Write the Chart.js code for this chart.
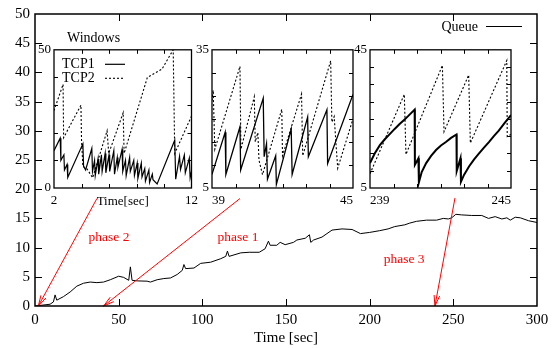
<!DOCTYPE html>
<html><head><meta charset="utf-8">
<script src="https://cdn.jsdelivr.net/npm/chart.js@4"></script>
<style>
html,body{margin:0;padding:0;background:#fff;}
#wrap{position:relative;width:559px;height:348px;overflow:hidden;}
canvas{position:absolute;}
</style></head><body>
<div id="wrap">
<canvas id="main" width="559" height="348" style="left:0;top:0;width:559px;height:348px"></canvas>
<canvas id="inA" width="171" height="179" style="left:32px;top:39px;width:171px;height:179px"></canvas>
<canvas id="inB" width="171" height="179" style="left:190px;top:39px;width:171px;height:179px"></canvas>
<canvas id="inC" width="171" height="179" style="left:348px;top:39px;width:171px;height:179px"></canvas>
</div>
<script>
// ---------- main chart: queue length ----------
const queueTime  = [0,3,9,11,12,13,17,21,25,29,33,37,41,45,50,53,56,57,58,61,67,69,73,77,81,85,88,89,90,95,99,105,111,114,115,116,123,128,134,137.5,139.5,140.5,144.5,146.5,149.5,154.5,156.5,161.5,164,164.8,166.5,171.5,174.5,177.5,183.5,189.5,194.5,200,206,211,215,221,224,228,234,240,244,247,249,251.5,255,261,267,271,275,279,282,284,287,290,295,300];
const queueValue = [0,0.1,0.3,0.7,1.9,1.0,1.6,2.4,3.4,3.9,4.1,4.0,4.1,4.5,5.1,4.9,4.4,6.7,4.4,4.3,4.25,4.1,4.5,4.7,4.8,5.4,6.1,7.1,6.4,6.5,7.3,7.5,8.1,8.5,9.4,8.5,9.1,9.2,9.2,9.8,11.1,10.4,10.4,10.9,10.5,10.9,11.3,11.6,12.2,10.9,11.3,11.8,12.4,13.0,13.2,13.1,12.4,12.6,12.9,13.2,13.6,13.9,14.2,14.5,14.7,14.7,15.0,14.9,15.1,15.7,15.6,15.5,15.5,15.0,15.3,14.9,15.1,14.7,15.2,15.1,14.6,14.3];
const mainXTicks = {min:0, max:300, step:50};
const mainYTicks = {min:0, max:50, step:5};

// phase annotations (data units of the main chart)
const phaseNames  = ['phase 2','phase 1','phase 3'];
const phaseFromX  = [37, 122.5, 251];
const phaseFromY  = [18.4, 18.4, 18.5];
const phaseToX    = [2, 41, 239];
const phaseToY    = [0, 0, 0];
const phaseLabelX = [44.2, 121.3, 220.6];
const phaseLabelY = [11.7, 11.7, 8.0];

// ---------- inset A: 2-12 s ----------
const tcp1A_t = [2.0,2.45,2.5,2.72,2.76,2.95,3.0,4.1,4.15,4.3,4.75,4.8,4.95,5.0,5.2,5.25,5.45,5.5,5.72,5.77,6.0,6.05,6.35,6.4,6.6,6.65,6.95,7.0,7.2,7.25,7.5,7.55,7.8,7.85,8.05,8.1,8.35,8.4,8.6,8.65,8.9,8.95,9.15,9.2,9.5,10.78,10.85,11.13,11.2,11.48,11.55,11.84,11.9,12.0];
const tcp1A_w = [13.5,18,10,12,6.5,8.5,3.8,16,7.8,6.5,14.3,6,10,4.5,10.5,5,12,6,12.5,5.5,12,6,13.5,5,11,7.5,14,6,10,4.5,11,6,10,4.5,9,3.5,9,4,7,2.5,6.5,2,5,3,1.5,17.3,3.2,11.4,6.7,11.9,5.5,10.8,3.7,6];
const tcp2A_t = [2.0,2.66,2.7,3.96,4.0,4.1,4.35,4.81,5.86,5.98,7.03,7.1,8.79,9.85,10.67,10.78,12.0];
const tcp2A_w = [28,37.5,18.2,30,17.6,7.8,7.3,3.7,20.7,12.5,27.2,12.5,40,43,50,12.5,26];

// ---------- inset B: 39-45 s ----------
const tcp1B_t = [39.0,39.56,39.59,40.19,40.22,41.18,41.22,41.32,41.36,41.71,41.74,42.37,42.41,43.07,43.1,43.89,43.92,45.0];
const tcp1B_w = [7.95,17.1,7.95,18.3,8.9,24.5,11.8,14.6,6.9,12.0,5.8,17.8,7.95,20.4,11.8,22.0,10.3,25.3];
const tcp2B_t = [39.0,39.05,39.12,40.19,40.23,40.8,40.84,40.95,41.0,41.15,41.97,42.0,42.81,42.86,44.05,44.1,44.2,44.27,44.35,45.0];
const tcp2B_w = [24,26.2,13.4,31.4,13.4,24.8,15,17,11,7.9,22.1,12,25.4,12,32.6,19.3,20.5,15,9.3,20];

// ---------- inset C: 239-245 s ----------
const tcp1C_t = [239.0,239.2,239.42,239.63,239.84,240.05,240.26,240.45,240.62,240.9,240.91,241.06,241.08,241.2,241.39,241.6,241.81,242.02,242.23,242.45,242.68,242.69,242.85,242.87,243.0,243.22,243.43,243.64,243.85,244.06,244.27,244.48,244.74,245.0];
const tcp1C_w = [12.2,15.0,17.4,19.1,20.6,22.1,23.5,24.7,25.8,27.7,11.7,13.6,6.6,9.6,12.2,14.3,16.0,17.3,18.3,19.5,20.5,9.9,13.6,6.8,8.8,11.3,13.3,15.0,16.7,18.3,20.0,21.6,23.9,26.1];
const tcp2C_t = [239.0,240.46,240.53,242.08,242.15,243.2,243.27,244.82,244.84,245.0];
const tcp2C_w = [9.1,32.1,14.7,40.5,21.3,37.7,18.0,41.9,19.9,20.5];

const FONT = "'Liberation Serif','DejaVu Serif',serif";
Chart.defaults.font.family = FONT;
Chart.defaults.color = '#000';

const pts = (t, v) => t.map((x, i) => ({x, y: v[i]}));

// inward tick marks on all four sides + frame
const frameTicks = {
  id: 'frameTicks',
  beforeDraw(chart, args, o) {
    if (!o.bg) return;
    const a = chart.chartArea, ctx = chart.ctx;
    ctx.save(); ctx.fillStyle = '#fff';
    ctx.fillRect(a.left, a.top, a.right - a.left, a.bottom - a.top);
    ctx.restore();
  },
  afterDraw(chart, args, o) {
    const {ctx, chartArea: a, scales} = chart;
    ctx.save();
    ctx.strokeStyle = '#000'; ctx.lineWidth = 1;
    ctx.beginPath();
    scales.x.ticks.forEach(t => {
      const p = Math.round(scales.x.getPixelForValue(t.value)) + 0.5;
      if (p <= a.left + 1.5 || p >= a.right - 1.5) return;
      ctx.moveTo(p, a.bottom); ctx.lineTo(p, a.bottom - o.len);
      ctx.moveTo(p, a.top); ctx.lineTo(p, a.top + o.len);
    });
    scales.y.ticks.forEach(t => {
      const p = Math.round(scales.y.getPixelForValue(t.value)) + 0.5;
      if (p <= a.top + 1.5 || p >= a.bottom - 1.5) return;
      ctx.moveTo(a.left, p); ctx.lineTo(a.left + o.len, p);
      ctx.moveTo(a.right, p); ctx.lineTo(a.right - o.len, p);
    });
    ctx.stroke();
    ctx.lineWidth = o.border;
    ctx.strokeRect(a.left, a.top, a.right - a.left, a.bottom - a.top);
    ctx.restore();
  }
};

// main annotations: arrows, phase labels, legend, "Windows" caption
const mainAnnot = {
  id: 'mainAnnot',
  afterDatasetsDraw(chart) {
    const {ctx, chartArea: a, scales: {x, y}} = chart;
    ctx.save();
    ctx.strokeStyle = '#ff0000'; ctx.fillStyle = '#ff0000'; ctx.lineWidth = 1;
    phaseNames.forEach((name, i) => {
      const x1 = x.getPixelForValue(phaseFromX[i]), y1 = y.getPixelForValue(phaseFromY[i]);
      const x2 = x.getPixelForValue(phaseToX[i]), y2 = y.getPixelForValue(phaseToY[i]);
      const ang = Math.atan2(y2 - y1, x2 - x1), L = 11, h = 0.26;
      ctx.beginPath();
      ctx.moveTo(x1, y1); ctx.lineTo(x2, y2);
      ctx.moveTo(x2 - L * Math.cos(ang - h), y2 - L * Math.sin(ang - h));
      ctx.lineTo(x2, y2);
      ctx.lineTo(x2 - L * Math.cos(ang + h), y2 - L * Math.sin(ang + h));
      ctx.stroke();
      ctx.font = '13.5px ' + FONT;
      ctx.textAlign = 'center'; ctx.textBaseline = 'middle';
      ctx.fillText(name, x.getPixelForValue(phaseLabelX[i]), y.getPixelForValue(phaseLabelY[i]));
    });
    // legend
    const ds = chart.data.datasets[0];
    ctx.fillStyle = '#000'; ctx.strokeStyle = ds.borderColor; ctx.lineWidth = ds.borderWidth;
    ctx.font = '14px ' + FONT; ctx.textAlign = 'right'; ctx.textBaseline = 'middle';
    ctx.fillText(ds.label, a.right - 59, a.top + 13);
    ctx.beginPath(); ctx.moveTo(a.right - 51, a.top + 12.5); ctx.lineTo(a.right - 15, a.top + 12.5); ctx.stroke();
    // caption of insets
    ctx.textAlign = 'left';
    ctx.fillText('Windows', a.left + 32, a.top + 24);
    ctx.restore();
  }
};

// legend inside inset A
const insetLegend = {
  id: 'insetLegend',
  afterDraw(chart) {
    const {ctx, chartArea: a} = chart;
    ctx.save();
    ctx.font = '14px ' + FONT; ctx.fillStyle = '#000';
    ctx.textAlign = 'left'; ctx.textBaseline = 'middle';
    chart.data.datasets.forEach((ds, i) => {
      const yy = a.top + 15 + i * 14;
      ctx.fillText(ds.label, a.left + 8, yy);
      ctx.strokeStyle = '#000'; ctx.lineWidth = ds.borderWidth;
      ctx.setLineDash(ds.borderDash || []);
      ctx.beginPath(); ctx.moveTo(a.left + 51, yy - 0.5); ctx.lineTo(a.left + 71, yy - 0.5); ctx.stroke();
    });
    ctx.restore();
  }
};

new Chart(document.getElementById('main'), {
  type: 'line',
  data: {datasets: [{label: 'Queue', data: pts(queueTime, queueValue), borderColor: '#000', borderWidth: 1, pointRadius: 0, tension: 0, fill: false}]},
  options: {
    responsive: false, animation: false,
    layout: {padding: {left: 0, right: 22, top: 12, bottom: 0}},
    plugins: {legend: {display: false}, tooltip: {enabled: false}, frameTicks: {len: 7, border: 1.5}},
    scales: {
      x: {type: 'linear', min: mainXTicks.min, max: mainXTicks.max,
          ticks: {stepSize: mainXTicks.step, padding: 5, maxRotation: 0, autoSkip: false, color: '#000', font: {family: FONT, size: 15}},
          grid: {display: false, drawTicks: false}, border: {display: false},
          title: {display: true, text: 'Time [sec]', color: '#000', font: {family: FONT, size: 15}, padding: {top: 0, bottom: 1}},
          afterFit(s) { s.height = 42; }},
      y: {type: 'linear', min: mainYTicks.min, max: mainYTicks.max,
          ticks: {stepSize: mainYTicks.step, padding: 5, autoSkip: false, color: '#000', font: {family: FONT, size: 15}},
          grid: {display: false, drawTicks: false}, border: {display: false},
          afterFit(s) { s.width = 35; }}
    }
  },
  plugins: [frameTicks, mainAnnot]
});

function endLabels(v, i, arr) { return (i === 0 || i === arr.length - 1) ? String(v) : ''; }

function makeInset(id, t1, w1, t2, w2, xr, yr, extra) {
  const plugins = [frameTicks];
  if (extra.legend) plugins.push(insetLegend);
  return new Chart(document.getElementById(id), {
    type: 'line',
    data: {datasets: [
      {label: 'TCP1', data: pts(t1, w1), borderColor: '#000', borderWidth: extra.w1, pointRadius: 0, tension: 0, fill: false},
      {label: 'TCP2', data: pts(t2, w2), borderColor: '#000', borderWidth: 1.1, borderDash: [2, 2], pointRadius: 0, tension: 0, fill: false}
    ]},
    options: {
      responsive: false, animation: false,
      layout: {padding: {left: 0, right: 8, top: 8, bottom: 0}},
      plugins: {legend: {display: false}, tooltip: {enabled: false}, frameTicks: {len: 4, border: 1.3, bg: true}},
      scales: {
        x: {type: 'linear', min: xr[0], max: xr[1],
            ticks: {stepSize: xr[2], padding: 5, maxRotation: 0, autoSkip: false, align: extra.align, color: '#000', font: {family: FONT, size: 13}, callback: endLabels},
            grid: {display: false, drawTicks: false}, border: {display: false},
            title: {display: !!extra.title, text: extra.title || '', color: '#000', font: {family: FONT, size: 13}, padding: {top: 0, bottom: 9}},
            afterFit(s) { s.height = 30; }},
        y: {type: 'linear', min: yr[0], max: yr[1],
            ticks: {stepSize: yr[2], padding: 3, autoSkip: false, color: '#000', font: {family: FONT, size: 13}, callback: endLabels},
            grid: {display: false, drawTicks: false}, border: {display: false},
            afterFit(s) { s.width = 22; }}
      }
    },
    plugins
  });
}

makeInset('inA', tcp1A_t, tcp1A_w, tcp2A_t, tcp2A_w, [2, 12, 2], [0, 50, 10], {w1: 1.2, align: 'center', title: 'Time[sec]', legend: true});
makeInset('inB', tcp1B_t, tcp1B_w, tcp2B_t, tcp2B_w, [39, 45, 1], [5, 35, 5], {w1: 1.3, align: 'inner'});
makeInset('inC', tcp1C_t, tcp1C_w, tcp2C_t, tcp2C_w, [239, 245, 1], [5, 45, 5], {w1: 2, align: 'inner'});
</script>
</body></html>
